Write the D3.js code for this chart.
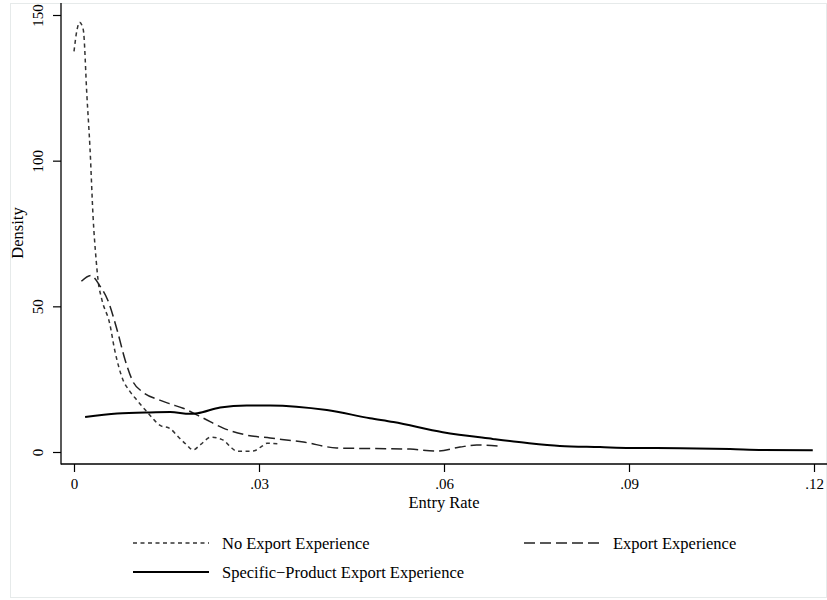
<!DOCTYPE html>
<html>
<head>
<meta charset="utf-8">
<script src="https://cdn.jsdelivr.net/npm/d3@7"></script>
<style>
  html, body { margin: 0; padding: 0; background: #fff; }
  svg { display: block; font-family: "Liberation Serif", "Times New Roman", serif; }
</style>
</head>
<body>
<svg id="chart" width="827" height="600"></svg>
<script>
// Kernel density estimates of the entry rate, by export experience
const noExpRate = [0.0000, 0.0005, 0.0009, 0.0015, 0.0021, 0.0026, 0.0031, 0.0036, 0.0039, 0.0045, 0.0058, 0.0066, 0.0079, 0.0090, 0.0102, 0.0120, 0.0139, 0.0156, 0.0170, 0.0183, 0.0193, 0.0205, 0.0222, 0.0242, 0.0255, 0.0264, 0.0290, 0.0305, 0.0313, 0.0334];
const noExpDensity = [137.5, 145, 147.5, 145, 122, 104, 80.5, 65.7, 59, 52.5, 44, 35, 25, 21, 17.8, 13.4, 9.2, 8, 5, 2.4, 0.7, 2.5, 5.1, 4.1, 1.5, 0.3, 0.3, 2, 3, 2.8];

const expRate = [0.0012, 0.0027, 0.0042, 0.0055, 0.0070, 0.0083, 0.0096, 0.0112, 0.0139, 0.0156, 0.0177, 0.0210, 0.0242, 0.0280, 0.0318, 0.0372, 0.0426, 0.0475, 0.0545, 0.0589, 0.0626, 0.0653, 0.0690];
const expDensity = [58.6, 60.6, 57, 52, 41.8, 31.5, 24, 20.5, 17.8, 16.5, 15, 11.6, 8.2, 5.8, 4.8, 3.4, 1.4, 1.2, 1, 0.3, 1.7, 2.4, 2];

const specRate = [0.0018, 0.0070, 0.0123, 0.0156, 0.0188, 0.0200, 0.0237, 0.0280, 0.0318, 0.0410, 0.0480, 0.0518, 0.0598, 0.0679, 0.0735, 0.0788, 0.0853, 0.0902, 0.0983, 0.1064, 0.1117, 0.1198];
const specDensity = [12, 13.2, 13.6, 13.7, 13.1, 13.3, 15.3, 16, 16, 14.4, 11.6, 10.3, 6.8, 4.5, 3.1, 2.1, 1.7, 1.4, 1.3, 1, 0.7, 0.6];

const xTicks = [0, 0.03, 0.06, 0.09, 0.12];
const xTickLabels = ["0", ".03", ".06", ".09", ".12"];
const yTicks = [0, 50, 100, 150];

const seriesNames = ["No Export Experience", "Export Experience", "Specific\u2212Product Export Experience"];

const svg = d3.select("#chart");

// outer graph frame
svg.append("rect")
  .attr("x", 10.5).attr("y", 3.5).attr("width", 816).attr("height", 594)
  .attr("fill", "none").attr("stroke", "#e6eaea").attr("stroke-width", 1);

const x = d3.scaleLinear().domain([0, 0.12]).range([74, 814]);
const y = d3.scaleLinear().domain([0, 150]).range([452, 15]);

// axis lines
svg.append("line").attr("x1", 61).attr("x2", 61).attr("y1", 3).attr("y2", 464.5)
  .attr("stroke", "#000").attr("stroke-width", 1.3);
svg.append("line").attr("x1", 61).attr("x2", 827).attr("y1", 464).attr("y2", 464)
  .attr("stroke", "#000").attr("stroke-width", 1.3);

// y ticks and labels
const yAxis = d3.axisLeft(y).tickValues(yTicks).tickSize(8).tickFormat(d3.format("d"));
const gy = svg.append("g").attr("transform", "translate(61,0)").call(yAxis);
gy.select(".domain").remove();
gy.selectAll(".tick line").attr("stroke", "#000").attr("stroke-width", 1.2);
gy.selectAll(".tick text")
  .attr("x", null).attr("dy", null)
  .attr("transform", "translate(-18,0) rotate(-90)")
  .attr("text-anchor", "middle")
  .attr("font-family", "Liberation Serif, serif")
  .attr("font-size", 15).attr("fill", "#000");

// x ticks and labels
const xAxis = d3.axisBottom(x).tickValues(xTicks).tickSize(8)
  .tickFormat((d, i) => xTickLabels[i]);
const gx = svg.append("g").attr("transform", "translate(0,464)").call(xAxis);
gx.select(".domain").remove();
gx.selectAll(".tick line").attr("stroke", "#000").attr("stroke-width", 1.2);
gx.selectAll(".tick text")
  .attr("y", 25).attr("dy", null)
  .attr("font-family", "Liberation Serif, serif")
  .attr("font-size", 15).attr("fill", "#000");

// axis titles
svg.append("text").attr("transform", "translate(23,233) rotate(-90)")
  .attr("text-anchor", "middle").attr("font-size", 16.5).text("Density");
svg.append("text").attr("x", 444).attr("y", 508)
  .attr("text-anchor", "middle").attr("font-size", 16.5).text("Entry Rate");

// density curves
const styles = [
  { dash: "4,3.5", width: 1.5, color: "#333" },
  { dash: "11,5", width: 1.5, color: "#222" },
  { dash: null, width: 2, color: "#000" }
];
const series = [
  d3.zip(noExpRate, noExpDensity),
  d3.zip(expRate, expDensity),
  d3.zip(specRate, specDensity)
];
const line = d3.line().x(d => x(d[0])).y(d => y(d[1])).curve(d3.curveMonotoneX);

series.forEach((s, i) => {
  svg.append("path").datum(s)
    .attr("d", line)
    .attr("fill", "none")
    .attr("stroke", styles[i].color)
    .attr("stroke-width", styles[i].width)
    .attr("stroke-dasharray", styles[i].dash);
});

// legend
const legendPos = [
  { x: 133, y: 543 },
  { x: 524, y: 543 },
  { x: 133, y: 572 }
];
seriesNames.forEach((name, i) => {
  const p = legendPos[i];
  svg.append("line")
    .attr("x1", p.x).attr("x2", p.x + 76).attr("y1", p.y).attr("y2", p.y)
    .attr("stroke", styles[i].color)
    .attr("stroke-width", styles[i].width)
    .attr("stroke-dasharray", styles[i].dash);
  svg.append("text").attr("x", p.x + 89).attr("y", p.y + 5.5)
    .attr("font-size", 16.5).text(name);
});
</script>
</body>
</html>
